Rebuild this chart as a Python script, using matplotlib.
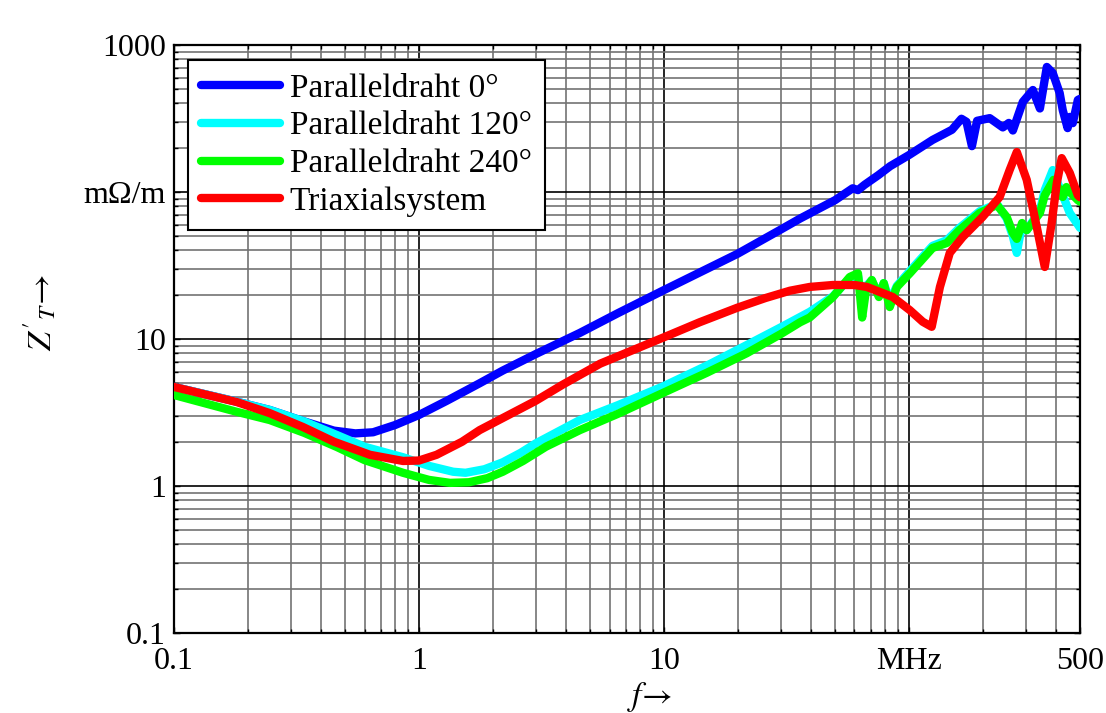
import matplotlib
matplotlib.use("Agg")
import matplotlib.pyplot as plt
from matplotlib.ticker import FixedLocator, LogLocator, NullFormatter

plt.rcParams["font.family"] = ["Liberation Serif", "DejaVu Serif"]
plt.rcParams["mathtext.fontset"] = "stix"

# Transfer impedance Z'_T in mOhm/m over frequency in MHz
f_p0 = [0.1, 0.18, 0.246, 0.34, 0.45, 0.55, 0.65, 0.8, 1.0, 1.3, 1.77, 2.2, 3.0,
        4.54, 6.5, 10, 15, 20, 29.7, 36, 50, 59, 62, 66, 75, 84, 100, 125, 150,
        164, 172, 181, 190, 214, 242, 256, 266, 292, 321, 343, 353, 366, 387,
        413, 425, 445, 454, 467, 490, 500]
z_p0 = [4.72, 3.75, 3.29, 2.75, 2.38, 2.28, 2.32, 2.6, 3.04, 3.8, 5.0, 6.1, 7.9,
        11.0, 15.0, 21.5, 30, 38, 55, 66, 88, 106, 103, 112, 130, 150, 178, 226,
        265, 315, 300, 205, 305, 318, 275, 295, 262, 410, 494, 370, 494, 709, 645,
        471, 361, 272, 324, 294, 423, 430]

f_p120 = [0.1, 0.18, 0.246, 0.34, 0.463, 0.6, 0.86, 1.1, 1.38, 1.55, 1.85, 2.2,
          2.6, 3.0, 4.54, 6.5, 9.9, 15, 21.8, 30, 39.4, 49, 57.4, 62, 64.5, 67,
          70.6, 75.5, 79, 83.6, 89.4, 101, 125, 143, 161, 195, 229, 251, 266, 276,
          290, 303, 343, 359, 387, 410, 425, 454, 490, 500]
z_p120 = [4.72, 3.75, 3.29, 2.75, 2.22, 1.85, 1.57, 1.37, 1.25, 1.23, 1.3, 1.45,
          1.68, 1.95, 2.81, 3.55, 4.75, 6.6, 9.1, 12.0, 15.3, 19.5, 26, 27, 19, 23,
          25, 20, 24, 18, 23, 29, 43, 47, 57, 74, 83, 66, 50, 38.5, 60, 55, 75,
          103, 141, 110, 95, 72, 60, 57]

f_p240 = [0.1, 0.18, 0.246, 0.34, 0.463, 0.6, 0.861, 1.1, 1.34, 1.6, 1.9, 2.2,
          2.66, 3.3, 4.54, 6.5, 9.9, 15, 21.8, 30, 36, 39.4, 49, 57.4, 62, 64.5,
          67, 70.6, 75.5, 79, 83.6, 89.4, 101, 125, 143, 161, 195, 229, 251, 266,
          276, 290, 303, 343, 359, 390, 410, 425, 440, 454, 490, 500]
z_p240 = [4.16, 3.2, 2.81, 2.3, 1.84, 1.5, 1.23, 1.1, 1.05, 1.06, 1.13, 1.25,
          1.48, 1.85, 2.4, 3.1, 4.29, 5.9, 8.0, 10.8, 13.0, 14.0, 19.3, 26.4, 28,
          14, 22, 25.2, 19.3, 24, 16.5, 22.6, 28, 41.6, 45, 55, 72, 81.6, 67.6,
          52.6, 48, 61.5, 55, 72, 95, 121, 105, 92.5, 108, 100, 88, 86]

f_tri = [0.1, 0.18, 0.246, 0.336, 0.45, 0.631, 0.861, 1.0, 1.18, 1.5, 1.77, 2.2,
         3.0, 3.87, 5.5, 9.9, 14, 19.9, 26, 32.7, 39.4, 49, 60, 67.4, 86, 101, 114,
         124, 134, 147, 166, 200, 235, 258, 276, 303, 333, 359, 383, 402, 421, 454,
         490, 500]
z_tri = [4.72, 3.73, 3.13, 2.52, 2.0, 1.63, 1.48, 1.49, 1.63, 2.0, 2.4, 2.9, 3.8,
         4.9, 6.8, 10.2, 13.0, 16.3, 19.0, 21.3, 22.6, 23.3, 23.3, 22.6, 19.3,
         15.7, 13.1, 12.1, 22.6, 38.5, 49.4, 67.6, 92.5, 141, 187, 121, 57.8, 30.9,
         61.5, 115, 170, 135, 95, 92]

series_names = ["Paralleldraht 0°", "Paralleldraht 120°", "Paralleldraht 240°",
                "Triaxialsystem"]
series_colors = ["#0000ff", "#00ffff", "#00ff00", "#ff0000"]

x_ticks = [0.1, 1, 10, 100, 500]
x_labels = ["0.1", "1", "10", "MHz", "500"]
y_ticks = [0.1, 1, 10, 100, 1000]
y_labels = ["0.1", "1", "10", "mΩ/m", "1000"]

fig = plt.figure(figsize=(11.06, 7.13), dpi=100)
ax = fig.add_axes([0.1573, 0.1122, 0.8192, 0.8247])
ax.set_xscale("log")
ax.set_yscale("log")
ax.set_xlim(0.1, 500)
ax.set_ylim(0.1, 1000)

data = [(f_p0, z_p0), (f_p120, z_p120), (f_p240, z_p240), (f_tri, z_tri)]
for (fx, zy), name, col in zip(data, series_names, series_colors):
    ax.plot(fx, zy, color=col, lw=6, label=name, solid_capstyle="round",
            solid_joinstyle="round", zorder=3)

ax.xaxis.set_major_locator(FixedLocator(x_ticks))
ax.set_xticklabels(x_labels)
ax.yaxis.set_major_locator(FixedLocator(y_ticks))
ax.set_yticklabels(y_labels)
ax.xaxis.set_minor_locator(LogLocator(base=10, subs=[2, 3, 4, 5, 6, 7, 8, 9], numticks=20))
ax.yaxis.set_minor_locator(LogLocator(base=10, subs=[2, 3, 4, 5, 6, 7, 8, 9], numticks=20))
ax.xaxis.set_minor_formatter(NullFormatter())
ax.yaxis.set_minor_formatter(NullFormatter())

ax.grid(True, which="major", color="black", lw=1.2, zorder=1)
ax.grid(True, which="minor", color="0.45", lw=1.2, zorder=1)
ax.set_axisbelow(True)

ax.tick_params(which="both", direction="in", top=True, right=True,
               labelsize=23, width=1.0, colors="black")
ax.tick_params(which="major", length=4, pad=6)
ax.tick_params(which="minor", length=3)
ax.tick_params(axis="x", which="major", pad=10)
for sp in ax.spines.values():
    sp.set_linewidth(1.6)

leg = ax.legend(loc="upper left", bbox_to_anchor=(0.0155, 0.975), fontsize=24,
                frameon=True, fancybox=False, edgecolor="black", framealpha=1,
                handlelength=2.35, handletextpad=0.3, labelspacing=0.22,
                borderpad=0.4, borderaxespad=0)
leg.get_frame().set_linewidth(1.5)
for ln in leg.get_lines():
    ln.set_linewidth(6)

fig.text(40 / 1106, 1 - 312 / 713, r"$Z'_{T}\!\rightarrow$", rotation=90,
         ha="center", va="center", fontsize=24)
fig.text(650 / 1106, 1 - 697 / 713, r"$f\!\rightarrow$", ha="center",
         va="center", fontsize=24)

fig.savefig("out.png", dpi=100)
